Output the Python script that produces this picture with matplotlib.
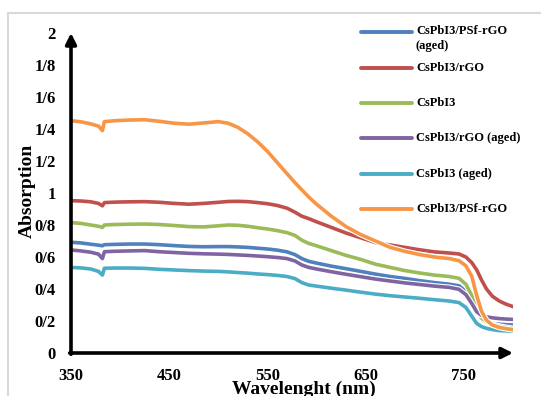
import matplotlib
matplotlib.use('Agg')
import matplotlib.pyplot as plt
import matplotlib.patheffects as pe
from matplotlib.lines import Line2D

plt.rcParams['font.family'] = 'Liberation Serif'
plt.rcParams['font.weight'] = 'bold'

# wavelengths (nm) shared by all spectra
wavelength = [350, 360, 370, 378, 382, 384, 395, 410, 425, 440, 455, 470, 485, 500, 510,
              520, 530, 540, 550, 560, 570, 578, 585, 592, 600, 615, 630, 645, 660, 675,
              690, 705, 720, 735, 745, 752, 758, 763, 768, 773, 779, 786, 793, 800]

psf_rgo_aged = [0.692, 0.688, 0.680, 0.674, 0.670, 0.677, 0.679, 0.681, 0.681, 0.677, 0.671, 0.666, 0.664, 0.665, 0.665,
                0.663, 0.660, 0.655, 0.650, 0.643, 0.632, 0.615, 0.590, 0.573, 0.562, 0.543, 0.527, 0.510, 0.493, 0.478,
                0.466, 0.452, 0.440, 0.430, 0.420, 0.385, 0.335, 0.260, 0.215, 0.195, 0.185, 0.180, 0.177, 0.175]
rgo = [0.952, 0.950, 0.945, 0.935, 0.920, 0.940, 0.943, 0.945, 0.946, 0.942, 0.935, 0.930, 0.935, 0.942, 0.947,
       0.948, 0.946, 0.940, 0.933, 0.922, 0.905, 0.880, 0.855, 0.840, 0.820, 0.785, 0.750, 0.720, 0.690, 0.675,
       0.660, 0.645, 0.632, 0.625, 0.619, 0.600, 0.565, 0.520, 0.456, 0.400, 0.355, 0.325, 0.305, 0.290]
pristine = [0.815, 0.810, 0.800, 0.792, 0.785, 0.800, 0.803, 0.805, 0.806, 0.803, 0.797, 0.790, 0.788, 0.795, 0.800,
            0.798, 0.792, 0.783, 0.775, 0.765, 0.752, 0.735, 0.705, 0.685, 0.670, 0.640, 0.610, 0.585, 0.555, 0.535,
            0.515, 0.500, 0.487, 0.478, 0.467, 0.430, 0.360, 0.275, 0.218, 0.195, 0.180, 0.168, 0.160, 0.154]
rgo_aged = [0.644, 0.638, 0.630, 0.618, 0.590, 0.633, 0.636, 0.638, 0.640, 0.633, 0.628, 0.623, 0.620, 0.618, 0.616,
            0.613, 0.610, 0.606, 0.602, 0.597, 0.590, 0.575, 0.550, 0.535, 0.525, 0.508, 0.492, 0.477, 0.462, 0.450,
            0.438, 0.428, 0.418, 0.410, 0.398, 0.365, 0.310, 0.258, 0.235, 0.226, 0.220, 0.215, 0.212, 0.210]
pristine_aged = [0.535, 0.532, 0.525, 0.510, 0.487, 0.530, 0.531, 0.531, 0.529, 0.523, 0.519, 0.515, 0.512, 0.510, 0.507,
                 0.503, 0.499, 0.494, 0.490, 0.485, 0.478, 0.465, 0.440, 0.425, 0.418, 0.405, 0.393, 0.380, 0.368, 0.358,
                 0.350, 0.342, 0.333, 0.325, 0.315, 0.285, 0.230, 0.185, 0.165, 0.154, 0.146, 0.140, 0.138, 0.137]
psf_rgo = [1.452, 1.445, 1.432, 1.418, 1.390, 1.446, 1.452, 1.456, 1.458, 1.448, 1.436, 1.430, 1.438, 1.446, 1.436,
           1.410, 1.370, 1.320, 1.260, 1.190, 1.120, 1.065, 1.020, 0.975, 0.930, 0.855, 0.790, 0.740, 0.700, 0.660,
           0.635, 0.615, 0.600, 0.590, 0.577, 0.545, 0.480, 0.360, 0.260, 0.205, 0.175, 0.160, 0.152, 0.146]

labels = ['CsPbI3/PSf-rGO\n(aged)', 'CsPbI3/rGO', 'CsPbI3', 'CsPbI3/rGO (aged)',
          'CsPbI3 (aged)', 'CsPbI3/PSf-rGO']
colors = ['#4F81BD', '#C0504D', '#9BBB59', '#8064A2', '#4BACC6', '#F79646']
series = [psf_rgo_aged, rgo, pristine, rgo_aged, pristine_aged, psf_rgo]

yticks = [0, 0.2, 0.4, 0.6, 0.8, 1.0, 1.2, 1.4, 1.6, 1.8, 2.0]
ytick_labels = ['0', '0/2', '0/4', '0/6', '0/8', '1', '1/2', '1/4', '1/6', '1/8', '2']
xticks = [350, 450, 550, 650, 750]

W, H = 541, 396
fig = plt.figure(figsize=(W / 100, H / 100), dpi=100)
ax = fig.add_axes([71 / W, 1 - 353 / H, (513 - 71) / W, (353 - 33) / H])

outline = [pe.Stroke(linewidth=4.2, foreground='white'), pe.Normal()]
for vals, c in zip(series, colors):
    ax.plot(wavelength, vals, color=c, lw=2.6, solid_capstyle='round',
            solid_joinstyle='round', path_effects=outline)

ax.set_xlim(350, 800)
ax.set_ylim(0, 2)
ax.set_xticks(xticks)
ax.set_yticks(yticks)
ax.set_yticklabels(ytick_labels)
ax.tick_params(length=0, labelsize=12, pad=11)
for s in ax.spines.values():
    s.set_visible(False)

# axis lines with arrow heads
arrow = dict(arrowstyle='-|>', lw=2.6, color='black', mutation_scale=16, shrinkA=0, shrinkB=0)
ax.annotate('', xy=(1.0, 0), xytext=(-0.003, 0), xycoords='axes fraction', arrowprops=arrow, annotation_clip=False)
ax.annotate('', xy=(0, 1.0), xytext=(0, -0.004), xycoords='axes fraction', arrowprops=arrow, annotation_clip=False)

fig.text(27 / W, 1 - 191 / H, 'Absorption', rotation=90, ha='center', va='center', fontsize=14, fontweight='bold')
fig.text(304 / W, 1 - 381 / H, 'Wavelenght (nm)', ha='center', va='top', fontsize=14, fontweight='bold')

# legend, drawn row by row
row_y = [32, 68, 103, 138, 174, 209]
for lab, c, yp in zip(labels, colors, row_y):
    y = 1 - yp / H
    fig.add_artist(Line2D([361 / W, 412 / W], [y, y], color=c, lw=2.8, solid_capstyle='round'))
    if '\n' in lab:
        fig.text(416 / W, 1 - (yp - 7) / H, lab, ha='left', va='top', fontsize=9,
                 fontweight='bold', linespacing=1.3)
    else:
        fig.text(416 / W, y, lab, ha='left', va='center', fontsize=9, fontweight='bold')

# light frame of the chart area
fig.add_artist(Line2D([8 / W, 8 / W], [0, 1 - 13 / H], color='#d9d9d9', lw=1.5))
fig.add_artist(Line2D([8 / W, 1], [1 - 13 / H, 1 - 13 / H], color='#d9d9d9', lw=1.5))

fig.savefig('out.png', dpi=100)
